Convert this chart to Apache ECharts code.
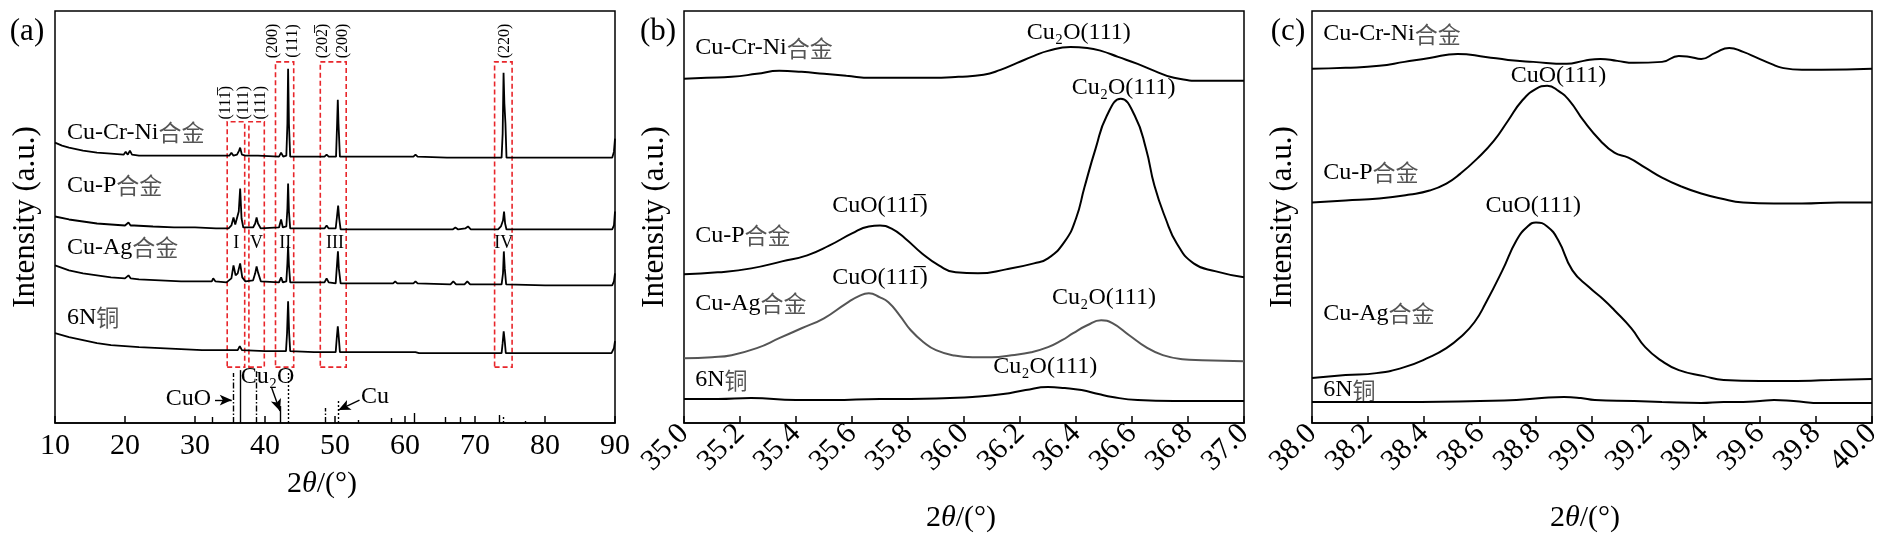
<!DOCTYPE html>
<html>
<head>
<meta charset="utf-8">
<script src="https://cdn.jsdelivr.net/npm/echarts@6/dist/echarts.min.js"></script>
<style>
html, body { margin: 0; padding: 0; background: #fff; }
#main { width: 1890px; height: 539px; }
</style>
</head>
<body>
<div id="main"></div>
<script>
var SERIF = "'Liberation Serif','Times New Roman','DejaVu Serif','Noto Sans CJK SC',serif";

// ---- panel (a): full scan 10-90 deg, stacked patterns (offset intensity, a.u.)
var aCrNi = [[10,281],[11,278],[12,276],[14,273],[16,271],[18,270],[19.8,269],[20.1,272],[20.4,269],[20.7,273],[21,269],[22,268],[24,268],[26,268],[28,268],[30,268],[32,268],[34,268],[34.9,268],[35.2,271],[35.5,268],[36.0,269],[36.3,273],[36.45,276],[36.7,269],[37.2,268],[38.6,268],[38.8,270],[39.0,268],[42.0,267],[42.3,271],[42.6,267],[43.05,268],[43.2,300],[43.3,355],[43.42,300],[43.6,267],[45,267],[48.5,267],[48.8,269],[49.1,267],[50.15,267],[50.3,300],[50.4,324],[50.5,300],[50.7,267],[55,267],[61.2,267],[61.5,269],[61.8,267],[66,266],[68,266],[73.8,266],[73.95,290],[74.08,351],[74.2,320],[74.35,300],[74.5,266],[78,266],[85,266],[89.6,266],[89.85,272],[90,285]];
var aP = [[10,207],[12,204],[14,202],[16,200],[18,199],[20,198],[20.5,201],[20.8,198],[21,200],[21.3,198],[24,197],[27,196],[30,196],[33,195],[34.8,195],[35.2,198],[35.5,206],[35.75,199],[36.0,201],[36.25,212],[36.45,235],[36.65,205],[36.9,196],[38.3,196],[38.6,200],[38.8,206],[39.0,200],[39.4,195],[42.0,196],[42.3,204],[42.55,196],[43.05,197],[43.2,215],[43.3,240],[43.42,212],[43.6,195],[47,195],[48.5,195],[48.8,198],[49.1,195],[50.1,195],[50.3,208],[50.45,218],[50.6,205],[50.8,194],[55,194],[60,194],[64,194],[66.8,194],[67.2,196],[67.6,194],[68.6,195],[69.0,197],[69.4,194],[73.3,194],[73.7,197],[74.0,203],[74.15,212],[74.3,200],[74.5,194],[80,194],[85,194],[89.6,194],[89.85,198],[90,212]];
var aAg = [[10,158],[12,153],[14,150],[16,148],[18,146],[20,145],[20.5,148],[20.8,145],[21,147],[22,144],[25,143],[28,142],[31,142],[32.4,142],[32.6,145],[32.9,142],[34.5,141],[35.2,145],[35.5,158],[35.8,148],[36.1,150],[36.45,160],[36.75,146],[37.2,142],[38.3,143],[38.6,150],[38.8,157],[39.0,151],[39.4,142],[42.0,141],[42.3,146],[42.55,141],[43.05,142],[43.2,160],[43.3,178],[43.42,158],[43.6,141],[47,141],[48.5,141],[48.8,145],[49.1,141],[50.1,140],[50.3,160],[50.42,172],[50.55,155],[50.8,140],[55,140],[58.3,140],[58.6,142],[58.9,140],[60,140],[61.2,140],[61.5,142],[61.8,140],[66.5,139],[66.9,142],[67.3,139],[68.5,139],[68.9,142],[69.3,139],[73.8,139],[74.0,150],[74.12,172],[74.25,155],[74.45,139],[80,138],[85,138],[89.6,138],[89.85,142],[90,150]];
var a6N = [[10,90],[12,86],[14,83],[16,80],[18,78],[20,77],[22,76],[25,75],[28,74],[31,73],[34,73],[36.1,73],[36.4,77],[36.7,73],[40,72],[43.0,72],[43.15,90],[43.3,122],[43.45,90],[43.6,72],[47,71],[50.1,71],[50.25,85],[50.4,97],[50.55,85],[50.7,71],[55,71],[61.5,71],[61.7,72],[62,70],[70,70],[73.8,70],[73.95,80],[74.1,92],[74.25,82],[74.4,70],[80,70],[89.5,70],[89.85,75],[90,82]];

// reference sticks [2theta, height]
var cuoSticks = [[32.5,7],[35.4,50],[38.7,52],[48.6,15],[53.3,3],[58.1,5],[65.7,7],[67.9,6]];
var cu2oSticks = [[36.4,53],[42.2,17],[61.3,10],[73.4,8],[77.2,2]];
var cuSticks = [[43.25,52],[50.4,24],[74.1,7]];
// dashed boxes [x0, x1, yBottom, yTop]
var boxes = [[34.6,37.1,56,302],[37.7,39.9,56,302],[41.5,44.1,56,362],[47.9,51.6,56,362],[72.8,75.3,56,362]];

// ---- panel (b): 35-37 deg
var bCrNi = [[35.0,345],[35.08,346],[35.17,347],[35.26,350],[35.34,353],[35.42,352],[35.5,350],[35.58,348],[35.67,346],[35.78,346],[35.88,346],[35.98,347],[36.07,349],[36.13,354],[36.19,361],[36.25,368],[36.3,373],[36.38,377],[36.44,376],[36.49,373],[36.55,367],[36.62,360],[36.68,353],[36.75,346],[36.86,343],[37.0,343]];
var bP = [[35.0,149],[35.12,151],[35.24,155],[35.35,162],[35.44,168],[35.52,178],[35.6,190],[35.66,197],[35.7,198],[35.74,195],[35.79,185],[35.85,170],[35.91,158],[35.97,151],[36.05,150],[36.15,154],[36.25,160],[36.3,165],[36.36,182],[36.4,205],[36.43,236],[36.47,275],[36.51,308],[36.56,325],[36.61,308],[36.65,275],[36.68,238],[36.72,205],[36.76,180],[36.82,160],[36.9,152],[37.0,146]];
var bAg = [[35.0,65],[35.1,66],[35.17,68],[35.26,75],[35.34,85],[35.42,95],[35.5,105],[35.58,120],[35.63,128],[35.66,130],[35.7,126],[35.73,121],[35.77,108],[35.81,93],[35.86,80],[35.9,73],[35.96,68],[36.03,66],[36.1,66],[36.17,68],[36.24,71],[36.3,76],[36.35,83],[36.39,90],[36.44,98],[36.49,103],[36.53,100],[36.59,88],[36.65,76],[36.71,68],[36.78,64],[36.85,63],[37.0,62]];
var b6N = [[35.0,24],[35.12,24],[35.24,25],[35.4,23],[35.53,23],[35.7,24],[35.81,24],[35.95,25],[36.03,26],[36.14,29],[36.22,33],[36.3,36],[36.36,35],[36.42,33],[36.48,29],[36.53,26],[36.62,23],[36.75,22],[37.0,22]];

// ---- panel (c): 38-40 deg
var cCrNi = [[38.0,355],[38.12,356],[38.24,358],[38.33,362],[38.42,366],[38.52,370],[38.62,367],[38.7,364],[38.79,362],[38.91,360],[38.97,363],[39.03,365],[39.09,363],[39.15,361],[39.25,362],[39.31,368],[39.35,367],[39.39,365],[39.44,371],[39.49,376],[39.54,372],[39.59,366],[39.64,360],[39.68,356],[39.75,354],[39.82,354],[40.0,355]];
var cP = [[38.0,221],[38.12,223],[38.24,225],[38.35,229],[38.42,233],[38.48,240],[38.53,250],[38.59,265],[38.65,283],[38.7,303],[38.75,323],[38.8,335],[38.84,338],[38.88,333],[38.92,323],[38.97,303],[39.03,283],[39.08,271],[39.13,266],[39.19,256],[39.25,246],[39.32,237],[39.39,230],[39.46,225],[39.54,221],[39.65,220],[39.75,220],[39.88,221],[40.0,221]];
var cAg = [[38.0,45],[38.12,48],[38.23,50],[38.33,56],[38.42,66],[38.48,75],[38.53,86],[38.58,101],[38.62,120],[38.68,153],[38.73,183],[38.77,197],[38.8,201],[38.84,197],[38.88,183],[38.93,153],[38.99,136],[39.04,124],[39.08,113],[39.14,95],[39.19,76],[39.25,62],[39.31,53],[39.4,47],[39.47,43],[39.6,42],[39.68,42],[39.85,43],[40.0,44]];
var c6N = [[38.0,21],[38.2,21],[38.39,21],[38.6,22],[38.73,23],[38.82,25],[38.9,26],[38.96,25],[39.01,23],[39.15,22],[39.25,21],[39.39,20],[39.47,21],[39.54,21],[39.6,22],[39.65,23],[39.72,22],[39.82,20],[40.0,20]];

var OVER = '\u0305';
// text notes: [grid, x, y, text, align, size, rotated]
var notes = [
  [0, 11.7, 291, 'Cu-Cr-Ni合金', 'left', 24], [0, 11.7, 238, 'Cu-P合金', 'left', 24],
  [0, 11.7, 176, 'Cu-Ag合金', 'left', 24], [0, 11.7, 106, '6N铜', 'left', 24],
  [0, 35.9, 180, 'I', 'center', 18], [0, 38.8, 180, 'V', 'center', 18], [0, 42.9, 180, 'II', 'center', 18],
  [0, 50.0, 180, 'III', 'center', 18], [0, 74.1, 180, 'IV', 'center', 18],
  [0, 34.35, 321, '(111' + OVER + ')', 'center', 16, true], [0, 36.94, 321, '(111)', 'center', 16, true],
  [0, 39.35, 321, '(111)', 'center', 16, true], [0, 41.1, 383, '(200)', 'center', 16, true],
  [0, 44.0, 383, '(111)', 'center', 16, true], [0, 48.2, 383, '(202' + OVER + ')', 'center', 16, true],
  [0, 51.1, 383, '(200)', 'center', 16, true], [0, 74.2, 383, '(220)', 'center', 16, true],
  [0, 32.3, 24, 'CuO', 'right', 24], [0, 40.36, 46, 'Cu\u2082O', 'center', 24], [0, 55.7, 26, 'Cu', 'center', 24],
  [1, 35.04, 376, 'Cu-Cr-Ni合金', 'left', 24], [1, 36.41, 391, 'Cu\u2082O(111)', 'center', 24],
  [1, 36.57, 336, 'Cu\u2082O(111)', 'center', 24], [1, 35.70, 218, 'CuO(11' + '1' + OVER + ')', 'center', 24],
  [1, 35.04, 188, 'Cu-P合金', 'left', 24], [1, 35.70, 146, 'CuO(11' + '1' + OVER + ')', 'center', 24],
  [1, 35.04, 120, 'Cu-Ag合金', 'left', 24], [1, 36.50, 126, 'Cu\u2082O(111)', 'center', 24],
  [1, 35.04, 43, '6N铜', 'left', 24], [1, 36.29, 56, 'Cu\u2082O(111)', 'center', 24],
  [2, 38.04, 390, 'Cu-Cr-Ni合金', 'left', 24], [2, 38.88, 348, 'CuO(111)', 'center', 24],
  [2, 38.04, 251, 'Cu-P合金', 'left', 24], [2, 38.79, 218, 'CuO(111)', 'center', 24],
  [2, 38.04, 110, 'Cu-Ag合金', 'left', 24], [2, 38.04, 33, '6N铜', 'left', 24]
];

var chart = echarts.init(document.getElementById('main'));

function xAx(idx, min, max, step, gap, rot, fmt, shift) {
  return {
    type: 'value', gridIndex: idx, min: min, max: max, interval: step,
    axisLine: { lineStyle: { color: '#000', width: 1.5 } },
    axisTick: { inside: true, length: 7, lineStyle: { color: '#000', width: 1.5 } },
    axisLabel: { color: '#000', fontFamily: SERIF, fontSize: 30, margin: rot ? 6 : 8, rotate: rot,
      showMinLabel: true, showMaxLabel: true, formatter: fmt },
    splitLine: { show: false },
    name: '{n|2}{i|θ}{n|/(°)}', nameLocation: 'middle', nameGap: gap,
    nameTextStyle: { padding: [0, shift, 0, 0], rich: {
      n: { fontFamily: SERIF, fontSize: 30, color: '#000' },
      i: { fontFamily: SERIF, fontSize: 30, color: '#000', fontStyle: 'italic' }
    } }
  };
}
function yAx(idx) {
  return {
    type: 'value', gridIndex: idx, min: 0, max: 413,
    axisLine: { show: false }, axisTick: { show: false }, axisLabel: { show: false }, splitLine: { show: false },
    name: 'Intensity (a.u.)', nameLocation: 'middle', nameGap: 14,
    nameTextStyle: { fontFamily: SERIF, fontSize: 31, color: '#000' }
  };
}
function curve(idx, name, data, color, smooth) {
  return {
    type: 'line', name: name, xAxisIndex: idx, yAxisIndex: idx, data: data,
    showSymbol: false, smooth: smooth, animation: false, silent: true,
    lineStyle: { color: color, width: smooth ? 2 : 1.8 }
  };
}
function sticks(list) {
  return list.map(function (s) { return [{ coord: [s[0], 0] }, { coord: [s[0], s[1]] }]; });
}

var one = function (v) { return v.toFixed(1); };
var option = {
  animation: false,
  grid: [
    { left: 55, top: 11, width: 560, bottom: 116, show: true, borderColor: '#000', borderWidth: 1.5 },
    { left: 684, top: 11, width: 560, bottom: 116, show: true, borderColor: '#000', borderWidth: 1.5 },
    { left: 1312, top: 11, width: 560, bottom: 116, show: true, borderColor: '#000', borderWidth: 1.5 }
  ],
  xAxis: [
    xAx(0, 10, 90, 10, 46, 0, function (v) { return v; }, 26),
    xAx(1, 35, 37, 0.2, 80, 45, one, 6),
    xAx(2, 38, 40, 0.2, 80, 45, one, 14)
  ],
  yAxis: [yAx(0), yAx(1), yAx(2)],
  series: [
    curve(0, 'Cu-Cr-Ni合金', aCrNi, '#000', false),
    curve(0, 'Cu-P合金', aP, '#000', false),
    curve(0, 'Cu-Ag合金', aAg, '#000', false),
    curve(0, '6N铜', a6N, '#000', false),
    {
      type: 'line', name: 'boxes', xAxisIndex: 0, yAxisIndex: 0, data: [], silent: true,
      markArea: {
        silent: true,
        itemStyle: { color: 'rgba(0,0,0,0)', borderColor: '#e8262b', borderWidth: 1.6, borderType: [5, 3] },
        data: boxes.map(function (b) { return [{ coord: [b[0], b[2]] }, { coord: [b[1], b[3]] }]; })
      }
    },
    {
      type: 'line', name: 'CuO', xAxisIndex: 0, yAxisIndex: 0, data: [], silent: true,
      markLine: { silent: true, symbol: ['none', 'none'], label: { show: false },
        lineStyle: { color: '#000', width: 1.4, type: [6, 2, 1.5, 2] }, data: sticks(cuoSticks) }
    },
    {
      type: 'line', name: 'Cu2O', xAxisIndex: 0, yAxisIndex: 0, data: [], silent: true,
      markLine: { silent: true, symbol: ['none', 'none'], label: { show: false },
        lineStyle: { color: '#000', width: 1.4, type: 'solid' }, data: sticks(cu2oSticks) }
    },
    {
      type: 'line', name: 'Cu', xAxisIndex: 0, yAxisIndex: 0, data: [], silent: true,
      markLine: { silent: true, symbol: ['none', 'none'], label: { show: false },
        lineStyle: { color: '#000', width: 1.4, type: [2, 2] }, data: sticks(cuSticks) }
    },
    {
      type: 'line', name: 'arrows', xAxisIndex: 0, yAxisIndex: 0, data: [], silent: true,
      markLine: { silent: true, symbol: ['none', 'arrow'], symbolSize: [8, 12], label: { show: false },
        lineStyle: { color: '#000', width: 1.4, type: 'solid' },
        data: [
          [{ coord: [32.86, 23] }, { coord: [35.25, 23] }],
          [{ coord: [40.96, 35] }, { coord: [42.14, 12] }],
          [{ coord: [53.5, 23] }, { coord: [50.5, 13] }]
        ] }
    },
    curve(1, 'Cu-Cr-Ni合金', bCrNi, '#000', true),
    curve(1, 'Cu-P合金', bP, '#000', true),
    curve(1, 'Cu-Ag合金', bAg, '#555', true),
    curve(1, '6N铜', b6N, '#000', true),
    curve(2, 'Cu-Cr-Ni合金', cCrNi, '#000', true),
    curve(2, 'Cu-P合金', cP, '#000', true),
    curve(2, 'Cu-Ag合金', cAg, '#000', true),
    curve(2, '6N铜', c6N, '#000', true)
  ]
};
chart.setOption(option);

function richText(s) {
  var m = s.match(/^(.*?)([\u4e00-\u9fff]+)$/);
  return m ? '{t|' + m[1] + '}{c|' + m[2] + '}' : '{t|' + s + '}';
}
var graphics = [];
notes.forEach(function (n) {
  var p = chart.convertToPixel({ gridIndex: n[0] }, [n[1], n[2]]);
  graphics.push({
    type: 'text', x: p[0], y: p[1], rotation: n[6] ? Math.PI / 2 : 0, silent: true,
    style: {
      text: richText(n[3]), align: n[4], verticalAlign: 'middle',
      rich: {
        t: { fontFamily: SERIF, fontSize: n[5], fill: '#000', color: '#000' },
        c: { fontFamily: "'Noto Sans CJK SC',sans-serif", fontSize: n[5] - 1, color: '#555', fill: '#555' }
      }
    }
  });
});
[['(a)', 27], ['(b)', 658], ['(c)', 1288]].forEach(function (t) {
  graphics.push({ type: 'text', x: t[1], y: 32, silent: true,
    style: { text: t[0], align: 'center', verticalAlign: 'middle', fontFamily: SERIF, fontSize: 31, fill: '#000' } });
});
chart.setOption({ graphic: graphics });
</script>
</body>
</html>
